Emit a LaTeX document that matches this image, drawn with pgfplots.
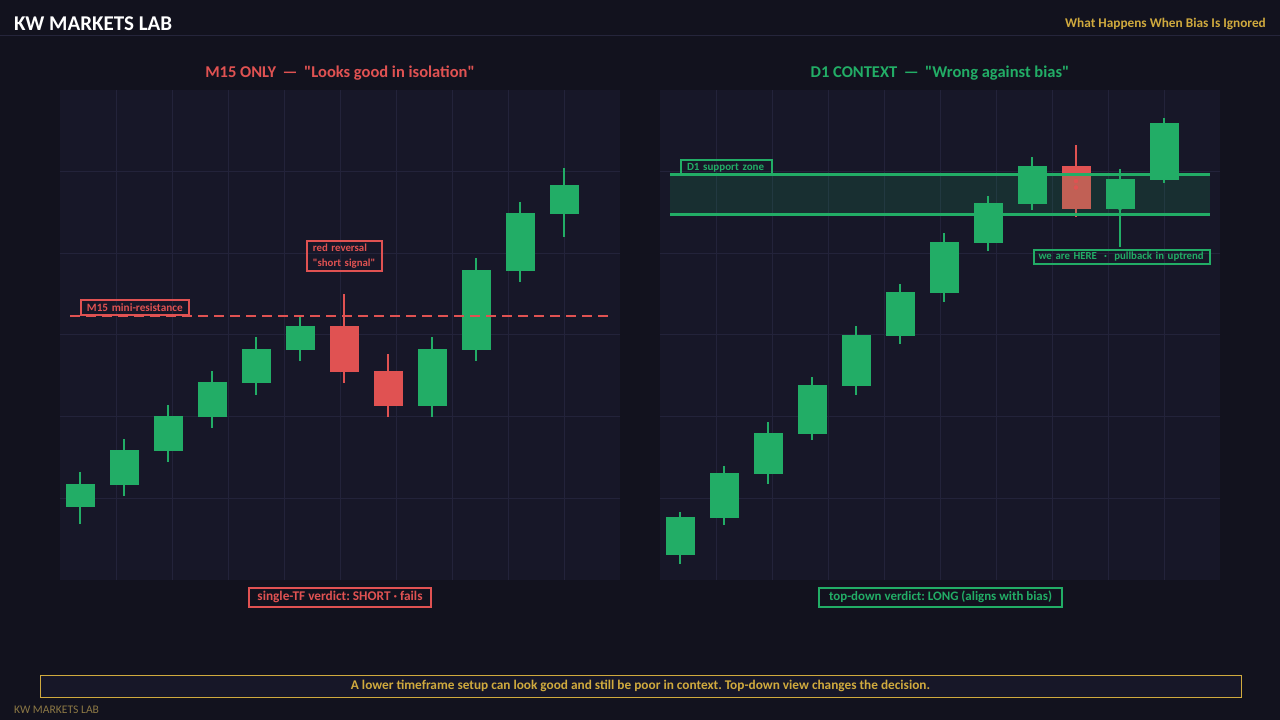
\documentclass[border=0pt]{standalone}
\usepackage{pgfplots}
\pgfplotsset{compat=1.18}
\usepackage{pgfplotstable}
\usepackage{fontspec}
\setmainfont{Carlito}
\frenchspacing
\definecolor{bg}{HTML}{12121E}
\definecolor{panel}{HTML}{171728}
\definecolor{gridc}{HTML}{23233A}
\definecolor{cgreen}{HTML}{22AD66}
\definecolor{cred}{HTML}{E05252}
\definecolor{gold}{HTML}{D0AA3E}
\definecolor{golddim}{HTML}{8C7845}
\definecolor{hdrline}{HTML}{25253B}

% M15 panel (values = height in px above panel bottom)
\pgfplotstableread{
x o c l h
0 73 96 56 108
1 95 130 84 141
2 129 164 118 175
3 163 198 152 209
4 197 231 185 243
5 230 254 219 263
8 174 231 163 243
9 230 310 219 322
10 309 367 298 378
11 366 395 343 412
}\Lup
\pgfplotstableread{
x o c l h
6 254 208 197 286
7 209 174 163 226
}\Ldn
% D1 panel
\pgfplotstableread{
x o c l h
0 25 63 16 68
1 62 107 55 114
2 106 147 96 158
3 146 195 140 203
4 194 245 185 254
5 244 288 236 296
6 287 338 278 347
7 337 377 329 384
8 376 414 370 423
10 371 401 333 411
11 400 457 397 462
}\Rup
\pgfplotstableread{
x o c l h
9 414 371 363 435
}\Rdn

\pgfplotsset{
  panelstyle/.style={width=560pt,height=490pt,scale only axis,
    xmin=-0.454545,xmax=12.272727,ymin=0,ymax=490,
    axis background/.style={fill=panel},
    axis line style={draw=none},
    xtick={0.818182,2.090909,3.363636,4.636364,5.909091,7.181818,8.454545,9.727273,11.0},
    ytick={81.667,163.333,245,326.667,408.333},
    xticklabels={},yticklabels={},
    major tick length=0pt,
    grid=major, grid style={draw=gridc,line width=1pt}},
  wick/.style={#1, only marks, mark=none, forget plot,
    error bars/.cd, y dir=both, y explicit, error mark=none,
    error bar style={draw=#1, solid, line width=2pt, line cap=butt}},
  body/.style={#1, only marks, mark=none, forget plot,
    error bars/.cd, y dir=both, y explicit, error mark=none,
    error bar style={draw=#1, solid, line width=29pt, line cap=butt}},
}
\newcommand\fs[1]{\fontsize{#1}{#1}\selectfont}
\newcommand\q{\textquotedbl}

\begin{document}
\begin{tikzpicture}
\fill[bg] (0,0) rectangle (1280pt,720pt);
\useasboundingbox (0,0) rectangle (1280pt,720pt);
% header
\draw[hdrline, line width=1pt] (0,684pt) -- (1280pt,684pt);
\node[anchor=west, text=white, font=\bfseries\fs{21}, inner sep=0] at (14pt,696.5pt) {KW MARKETS LAB};
\node[anchor=east, text=gold, font=\bfseries\fs{13.3}, inner sep=0] at (1266pt,696.5pt) {What Happens When Bias Is Ignored};

% titles
\node[text=cred, font=\bfseries\fs{16.5}, inner sep=0] at (340pt,647pt) {M15 ONLY \,—\, \q Looks good in isolation\q};
\node[text=cgreen, font=\bfseries\fs{16.5}, inner sep=0] at (940pt,647pt) {D1 CONTEXT \,—\, \q Wrong against bias\q};

% left panel
\begin{axis}[panelstyle, at={(60pt,140pt)}, anchor=south west]
\addplot[wick=cgreen] table[x=x, y expr={(\thisrow{l}+\thisrow{h})/2}, y error expr={(\thisrow{h}-\thisrow{l})/2}] {\Lup};
\addplot[wick=cred] table[x=x, y expr={(\thisrow{l}+\thisrow{h})/2}, y error expr={(\thisrow{h}-\thisrow{l})/2}] {\Ldn};
\addplot[body=cgreen] table[x=x, y expr={(\thisrow{o}+\thisrow{c})/2}, y error expr={abs(\thisrow{c}-\thisrow{o})/2}] {\Lup};
\addplot[body=cred] table[x=x, y expr={(\thisrow{o}+\thisrow{c})/2}, y error expr={abs(\thisrow{c}-\thisrow{o})/2}] {\Ldn};
\node[draw=cred, line width=2pt, anchor=south west, inner xsep=6pt, inner ysep=0pt,
  text width=96pt, minimum height=15pt, align=left, text=cred, font=\bfseries\fs{11.2}]
  at (axis cs:0,264) {M15 mini-resistance};
\addplot[cred, line width=2pt, dash pattern=on 10pt off 6pt, forget plot] coordinates {(-0.227,264) (12.023,264)};
\node[draw=cred, line width=2pt, anchor=north west, inner xsep=5.5pt, inner ysep=0pt,
  text width=64pt, minimum height=30pt, align=left, text=cred, font=\bfseries\fontsize{10.8}{15}\selectfont]
  at (axis cs:5.145,339.7) {red reversal\\\q short signal\q};
\end{axis}

% right panel
\begin{axis}[panelstyle, at={(660pt,140pt)}, anchor=south west]
\addplot[wick=cgreen] table[x=x, y expr={(\thisrow{l}+\thisrow{h})/2}, y error expr={(\thisrow{h}-\thisrow{l})/2}] {\Rup};
\addplot[wick=cred] table[x=x, y expr={(\thisrow{l}+\thisrow{h})/2}, y error expr={(\thisrow{h}-\thisrow{l})/2}] {\Rdn};
\addplot[body=cgreen] table[x=x, y expr={(\thisrow{o}+\thisrow{c})/2}, y error expr={abs(\thisrow{c}-\thisrow{o})/2}] {\Rup};
\addplot[body=cred] table[x=x, y expr={(\thisrow{o}+\thisrow{c})/2}, y error expr={abs(\thisrow{c}-\thisrow{o})/2}] {\Rdn};
\addplot[fill=cgreen, fill opacity=0.16, draw=none, forget plot] coordinates {(-0.227,365) (12.045,365) (12.045,405) (-0.227,405) (-0.227,365)};
\addplot[cgreen, line width=3pt, forget plot] coordinates {(-0.227,405) (12.045,405)};
\addplot[cgreen, line width=3pt, forget plot] coordinates {(-0.227,365) (12.045,365)};
\node[draw=cgreen, line width=2pt, anchor=south west, inner xsep=6pt, inner ysep=0pt,
  text width=79pt, minimum height=15pt, align=left, text=cgreen, font=\bfseries\fs{11}]
  at (axis cs:0,404) {D1 support zone};
\node[draw=cgreen, line width=2pt, anchor=south west, inner xsep=5pt, inner ysep=0pt,
  text width=166pt, minimum height=14.6pt, align=left, text=cgreen, font=\bfseries\fs{10.8}]
  at (axis cs:8.0114,314.7) {we are HERE~~·~~pullback in uptrend};
\end{axis}

% verdicts
\node[draw=cred, line width=2pt, minimum width=182pt, minimum height=18.7pt, inner sep=0, text=cred, font=\bfseries\fs{13.3}] at (340pt,122.7pt) {single-TF verdict: SHORT · fails};
\node[draw=cgreen, line width=2pt, minimum width=243pt, minimum height=18.7pt, inner sep=0, text=cgreen, font=\bfseries\fs{12.9}] at (940.5pt,122.7pt) {top-down verdict: LONG (aligns with bias)};

% banner
\draw[gold, line width=1pt, fill=panel] (40pt,22pt) rectangle (1241pt,44pt);
\node[text=gold, font=\bfseries\fs{13.3}, inner sep=0] at (640.5pt,34pt) {A lower timeframe setup can look good and still be poor in context. Top-down view changes the decision.};
% footer
\node[anchor=west, text=golddim, font=\fs{11.6}, inner sep=0] at (14pt,10pt) {KW MARKETS LAB};
\end{tikzpicture}
\end{document}
